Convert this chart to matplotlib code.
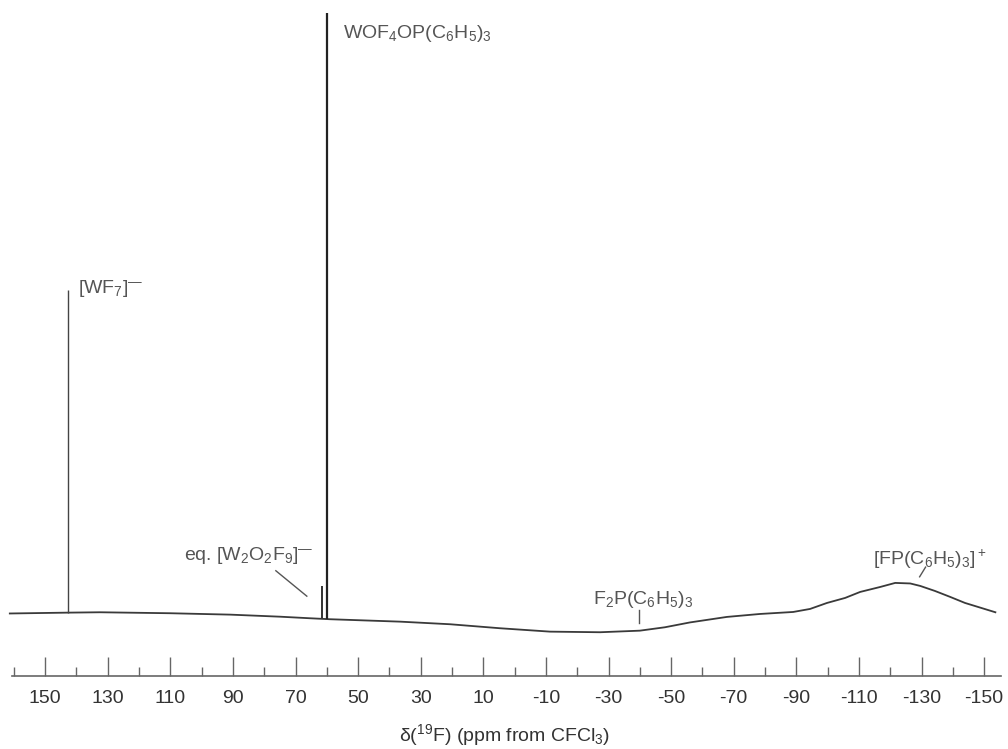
import numpy as np
import matplotlib
matplotlib.use("Agg")
import matplotlib.pyplot as plt
from matplotlib.ticker import MultipleLocator, FixedLocator

plt.rcParams['font.family'] = ['Liberation Sans', 'DejaVu Sans']
plt.rcParams['mathtext.fontset'] = 'custom'
plt.rcParams['mathtext.rm'] = 'Liberation Sans'
plt.rcParams['mathtext.it'] = 'Liberation Sans'
plt.rcParams['mathtext.default'] = 'regular'
plt.rcParams['axes.unicode_minus'] = False

# broad baseline of the 19F spectrum (ppm, relative intensity)
base_ppm = [161.3, 142.7, 132.5, 110.1, 90.9, 75.0, 65.4, 59.0, 36.6, 20.6,
            4.7, -11.3, -27.3, -40.0, -48.0, -56.0, -67.8, -78.4, -89.0,
            -94.4, -99.8, -105.6, -110.4, -116.8, -121.6, -126.4, -129.6,
            -134.3, -139.2, -143.9, -153.6]
base_int = [0.74, 0.88, 0.94, 0.78, 0.55, 0.21, -0.05, -0.21, -0.61, -1.04,
            -1.70, -2.26, -2.36, -2.10, -1.54, -0.74, 0.17, 0.66, 0.99,
            1.49, 2.48, 3.31, 4.30, 5.12, 5.79, 5.70, 5.29,
            4.46, 3.47, 2.48, 0.94]

# sharp signals: position, foot on the baseline, top
peak_ppm = [142.7, 61.5, 60.1]
peak_foot = [0.88, -0.08, -0.15]
peak_top = [54.2, 5.3, 100.0]

major_ticks = [150, 130, 110, 90, 70, 50, 30, 10, -10, -30, -50, -70, -90, -110, -130, -150]

txt = '#555555'
dash = '$^{\u2014}$'

fig = plt.figure(figsize=(10.08, 7.49), dpi=100)
ax = fig.add_axes([12 / 1008, 73 / 749, 989 / 1008, 676 / 749])

ax.plot(base_ppm, base_int, color='#3a3a3a', lw=1.3, clip_on=False)
ax.vlines(peak_ppm, peak_foot, peak_top, colors=['#444444', '#222222', '#222222'],
          lw=[1.0, 1.3, 1.6], clip_on=False)

ax.set_xlim(160.6, -155.4)
ax.set_ylim(-9.59, 102.1)

for s in ['top', 'left', 'right']:
    ax.spines[s].set_visible(False)
ax.spines['bottom'].set_color('#666666')
ax.spines['bottom'].set_linewidth(1.2)
ax.set_yticks([])

ax.xaxis.set_major_locator(FixedLocator(major_ticks))
ax.xaxis.set_minor_locator(MultipleLocator(20, offset=0))
ax.tick_params(axis='x', which='major', direction='in', length=13.5, width=1.0,
               color='#666666', labelsize=14, labelcolor='#333333', pad=10)
ax.tick_params(axis='x', which='minor', direction='in', length=6.5, width=1.0,
               color='#666666')

# signal labels
ax.text(54.9, 95.9, r'WOF$_4$OP(C$_6$H$_5$)$_3$', fontsize=14, color=txt,
        ha='left', va='baseline')
ax.text(139.5, 53.7, r'[WF$_7$]' + dash, fontsize=14, color=txt,
        ha='left', va='baseline')
ax.text(64.4, 9.6, r'eq. [W$_2$O$_2$F$_9$]' + dash, fontsize=14, color=txt,
        ha='right', va='baseline')
ax.plot([76.3, 66.4], [7.8, 3.6], color='#555555', lw=1.0)
ax.text(-25.0, 2.3, r'F$_2$P(C$_6$H$_5$)$_3$', fontsize=14, color=txt,
        ha='left', va='baseline')
ax.plot([-39.7, -39.7], [1.32, -0.83], color='#555555', lw=1.0)
ax.text(-114.5, 8.76, r'[FP(C$_6$H$_5$)$_3$]$^+$', fontsize=14, color=txt,
        ha='left', va='baseline')
ax.plot([-131.3, -129.4], [8.4, 6.8], color='#555555', lw=1.0)

fig.text(505 / 1008, 1 - 735 / 749, r'δ($^{19}$F) (ppm from CFCl$_3$)', fontsize=14,
         color='#333333', ha='center', va='center')

fig.savefig('out.png', dpi=100, facecolor='white')
